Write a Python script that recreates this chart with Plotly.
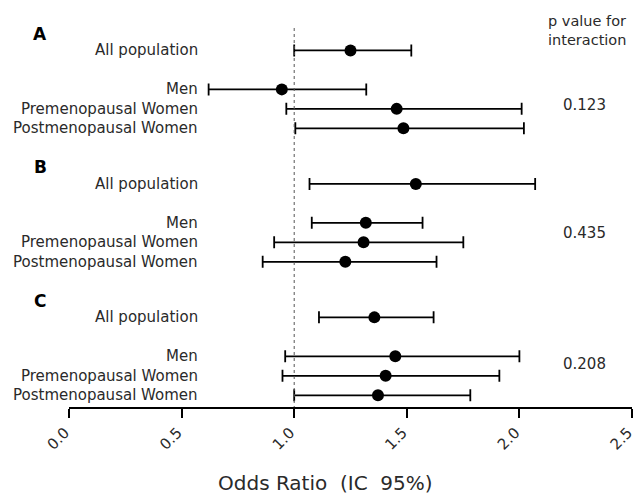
import plotly.graph_objects as go

groups = ["A", "B", "C"]
subgroups = ["All population", "Men", "Premenopausal Women", "Postmenopausal Women"]

or_A = [1.25, 0.945, 1.455, 1.485]
lo_A = [1.00, 0.62, 0.965, 1.005]
hi_A = [1.52, 1.32, 2.01, 2.02]

or_B = [1.54, 1.318, 1.308, 1.227]
lo_B = [1.068, 1.078, 0.911, 0.86]
hi_B = [2.07, 1.57, 1.751, 1.632]

or_C = [1.356, 1.449, 1.406, 1.372]
lo_C = [1.11, 0.96, 0.948, 1.0]
hi_C = [1.619, 2.0, 1.911, 1.782]

p_values = ["0.123", "0.435", "0.208"]
tick_vals = [0.0, 0.5, 1.0, 1.5, 2.0, 2.5]
tick_labels = ["0.0", "0.5", "1.0", "1.5", "2.0", "2.5"]

FONT = "DejaVu Sans"
TXT = "#2a2a2a"
group_step = 6.85
row_offsets = [0, 2, 3, 4]
p_offsets = [2.8, 2.5, 2.4]

fig = go.Figure()
annotations = []
for gi, (g, ors, los, his) in enumerate(zip(groups, [or_A, or_B, or_C], [lo_A, lo_B, lo_C], [hi_A, hi_B, hi_C])):
    ys = [gi * group_step + r for r in row_offsets]
    fig.add_trace(go.Scatter(
        x=ors, y=ys, mode="markers",
        marker=dict(color="black", size=12, symbol="circle"),
        error_x=dict(type="data", symmetric=False,
                     array=[h - o for h, o in zip(his, ors)],
                     arrayminus=[o - l for o, l in zip(ors, los)],
                     color="black", thickness=1.8, width=6),
        showlegend=False, hoverinfo="skip"))
    for lab, y in zip(subgroups, ys):
        annotations.append(dict(x=0.578, y=y, xref="x", yref="y", text=lab, showarrow=False,
                                xanchor="right", yanchor="middle", borderpad=0,
                                font=dict(family=FONT, size=15, color=TXT)))
    annotations.append(dict(x=-0.0515, y=gi * group_step - 0.85, xref="paper", yref="y",
                            text="<b>" + g + "</b>", showarrow=False, xanchor="center", yanchor="middle",
                            font=dict(family=FONT, size=17, color="black")))
    annotations.append(dict(x=2.29, y=gi * group_step + p_offsets[gi], xref="x", yref="y",
                            text=p_values[gi], showarrow=False, xanchor="center", yanchor="middle",
                            font=dict(family=FONT, size=15, color=TXT)))

annotations.append(dict(x=2.12, y=-1.0, xref="x", yref="y", text="p value for<br>interaction",
                        showarrow=False, xanchor="left", yanchor="middle", align="left",
                        font=dict(family=FONT, size=14.5, color=TXT)))
annotations.append(dict(x=0.456, y=-0.2, xref="paper", yref="paper",
                        text="Odds Ratio  (IC  95%)", showarrow=False,
                        xanchor="center", yanchor="middle",
                        font=dict(family=FONT, size=20, color=TXT)))

fig.add_shape(type="line", x0=1.0, x1=1.0, y0=-1.15, y1=18.3, xref="x", yref="y",
              line=dict(color="#555", width=1, dash="dot"))

fig.update_layout(
    width=638, height=499,
    margin=dict(l=69, r=6, t=28, b=92),
    paper_bgcolor="white", plot_bgcolor="white",
    annotations=annotations,
    xaxis=dict(range=[0, 2.5], tickvals=tick_vals, ticktext=tick_labels,
               showgrid=False, zeroline=False, showline=True, linecolor="black", linewidth=2,
               ticks="outside", ticklen=9, tickwidth=2, tickcolor="black",
               ticklabeloverflow="allow", automargin=False, ticklabelshift=-4,
               tickangle=-45, tickfont=dict(family=FONT, size=15, color=TXT)),
    yaxis=dict(range=[18.3, -1.15], showgrid=False, zeroline=False, showline=False,
               showticklabels=False, ticks=""),
)

fig.write_html("out.html", config={"displayModeBar": False},
               post_script="document.body.style.margin='0';document.body.style.overflow='hidden';")
